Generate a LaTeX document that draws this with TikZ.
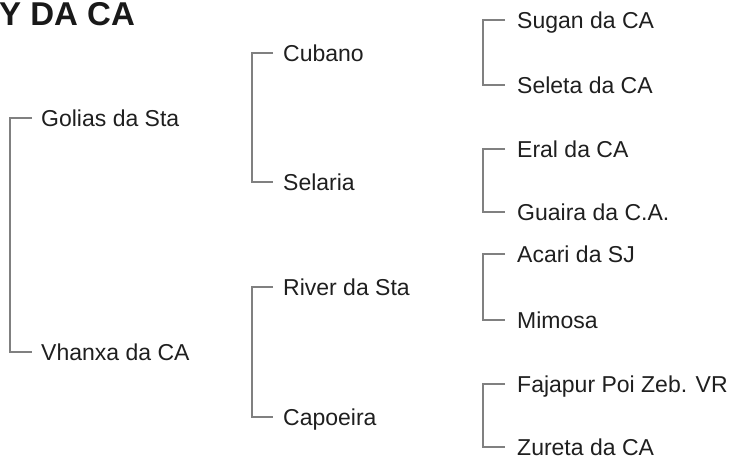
\documentclass[tikz,border=0pt]{standalone}
\usepackage{fontspec}
\setmainfont{Liberation Sans}
\begin{document}
\begin{tikzpicture}[x=1pt,y=-1pt,
  pname/.style={anchor=west,inner sep=0pt,text height=16.5pt,text depth=0pt,
    font=\fontsize{23}{27}\selectfont,text=black!88},
  link/.style={draw=black!50,line width=1.3pt}]
\useasboundingbox (0,0) rectangle (732,456);
\node[anchor=base west,inner sep=0pt,font=\bfseries\fontsize{33}{37}\selectfont,text=black!90] (title) at (-1,25) {Y DA CA};
% generation 1
\node[pname] (golias) at (41,118) {Golias da Sta};
\node[pname] (vhanxa) at (41,352) {Vhanxa da CA};
% generation 2
\node[pname] (cubano) at (283,53) {Cubano};
\node[pname] (selaria) at (283,182) {Selaria};
\node[pname] (river) at (283,287) {River da Sta};
\node[pname] (capoeira) at (283,417) {Capoeira};
% generation 3
\node[pname] (sugan) at (517,20) {Sugan da CA};
\node[pname] (seleta) at (517,85) {Seleta da CA};
\node[pname] (eral) at (517,149) {Eral da CA};
\node[pname] (guaira) at (517,212) {Guaira da C.A.};
\node[pname] (acari) at (517,254) {Acari da SJ};
\node[pname] (mimosa) at (517,320) {Mimosa};
\node[pname] (fajapur) at (517,384) {Fajapur Poi Zeb. VR};
\node[pname] (zureta) at (517,447) {Zureta da CA};
% brackets
\draw[link] ([xshift=-9pt]golias.west) -- ++(-22,0) |- ([xshift=-9pt]vhanxa.west);
\draw[link] ([xshift=-10pt]cubano.west) -- ++(-21,0) |- ([xshift=-10pt]selaria.west);
\draw[link] ([xshift=-10pt]river.west) -- ++(-21,0) |- ([xshift=-10pt]capoeira.west);
\draw[link] ([xshift=-12pt]sugan.west) -- ++(-22,0) |- ([xshift=-12pt]seleta.west);
\draw[link] ([xshift=-12pt]eral.west) -- ++(-22,0) |- ([xshift=-12pt]guaira.west);
\draw[link] ([xshift=-12pt]acari.west) -- ++(-22,0) |- ([xshift=-12pt]mimosa.west);
\draw[link] ([xshift=-12pt]fajapur.west) -- ++(-22,0) |- ([xshift=-12pt]zureta.west);
\end{tikzpicture}
\end{document}
